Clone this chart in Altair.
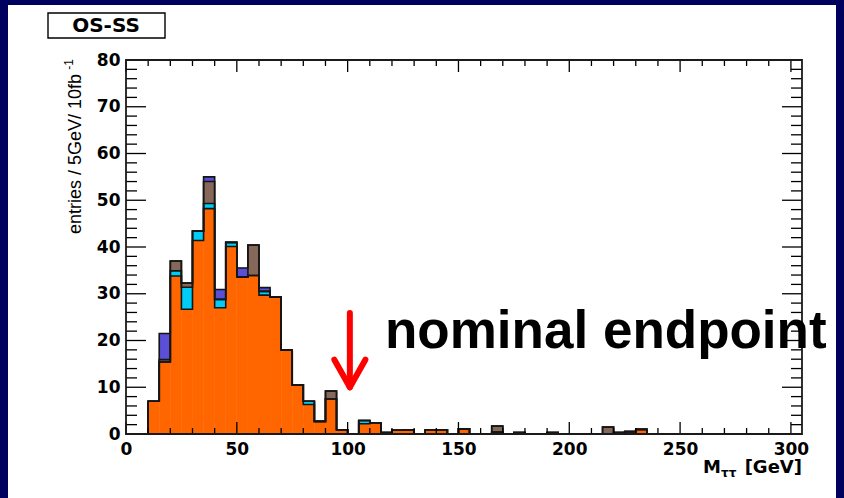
import altair as alt
import pandas as pd

# ---------------- data ----------------
bin_low = list(range(10, 235, 5))          # 5 GeV bins, 10 ... 230
orange = [7.0, 15.4, 33.8, 26.7, 41.4, 48.2, 27.0, 40.1, 33.6, 33.9,
          29.7, 29.3, 18.0, 10.5, 6.3, 2.7, 7.5, 0.9, 0.0, 2.2,
          2.4, 0.3, 0.8, 0.9, 0.0, 0.9, 0.9, 0.0, 1.1, 0.0,
          0.0, 0.4, 0.0, 0.3, 0.0, 0.0, 0.3, 0.0, 0.0, 0.0,
          0.0, 0.0, 0.3, 0.5, 1.0]
cyan = [0.0, 0.0, 1.1, 4.7, 2.0, 1.1, 1.8, 0.9, 0.0, 0.0,
        0.8, 0.0, 0.0, 0.0, 0.7, 0.0, 0.0, 0.0, 0.0, 0.7,
        0.0, 0.0, 0.0, 0.0, 0.0, 0.0, 0.0, 0.0, 0.0, 0.0,
        0.0, 0.0, 0.0, 0.0, 0.0, 0.0, 0.0, 0.0, 0.0, 0.0,
        0.0, 0.0, 0.0, 0.0, 0.0]
brown = [0.0, 0.5, 2.1, 0.9, 0.0, 4.7, 0.0, 0.0, 0.0, 6.5,
         0.0, 0.0, 0.0, 0.0, 0.0, 0.0, 1.7, 0.0, 0.0, 0.0,
         0.0, 0.0, 0.0, 0.0, 0.0, 0.0, 0.0, 0.0, 0.0, 0.0,
         0.0, 1.3, 0.0, 0.0, 0.0, 0.0, 0.0, 0.0, 0.0, 0.0,
         0.0, 1.5, 0.0, 0.0, 0.0]
purple = [0.0, 5.6, 0.0, 0.0, 0.0, 1.0, 2.1, 0.0, 1.9, 0.0,
          0.8, 0.0, 0.0, 0.0, 0.0, 0.0, 0.0, 0.0, 0.0, 0.0,
          0.0, 0.0, 0.0, 0.0, 0.0, 0.0, 0.0, 0.0, 0.0, 0.0,
          0.0, 0.0, 0.0, 0.0, 0.0, 0.0, 0.0, 0.0, 0.0, 0.0,
          0.0, 0.0, 0.0, 0.0, 0.0]
component_names = ["orange", "cyan", "brown", "purple"]
component_colors = ["#FF6600", "#00CCF5", "#86685A", "#5A4FD6"]
x_label_values = [0, 50, 100, 150, 200, 250, 300]
y_label_values = [0, 10, 20, 30, 40, 50, 60, 70, 80]
BIN_WIDTH = 5
endpoint_gev = 101

# ---------------- layout ----------------
W, H = 676, 374
X_MAX, Y_MAX = 305, 80
NAVY = "#00005E"

xs = alt.Scale(domain=[0, X_MAX], nice=False, zero=False)
ys = alt.Scale(domain=[0, Y_MAX], nice=False)
xaxis = alt.Axis(values=x_label_values, format="d", title=None, ticks=False, domain=False,
                 grid=False, labelFont="DejaVu Sans", labelFontWeight="bold",
                 labelFontSize=17, labelColor="black", labelPadding=7,
                 labelFlush=False, labelOverlap=False, zindex=1)
yaxis = alt.Axis(values=y_label_values, format="d", title=None, ticks=False, domain=False,
                 grid=False, labelFont="DejaVu Sans", labelFontWeight="bold",
                 labelFontSize=17, labelColor="black", labelPadding=6,
                 labelOverlap=False, zindex=1)


def X(f):
    return alt.X(f, type="quantitative", scale=xs, axis=xaxis)


def Y(f):
    return alt.Y(f, type="quantitative", scale=ys, axis=yaxis)


series = [orange, cyan, brown, purple]

# stacked fill rectangles
rows = []
for i, lo in enumerate(bin_low):
    base = 0.0
    for name, vals in zip(component_names, series):
        v = vals[i]
        if v > 0:
            rows.append(dict(lo=lo, hi=lo + BIN_WIDTH, y0=base, y1=base + v, comp=name))
        base += v
fill_df = pd.DataFrame(rows)

# step outlines of cumulative levels
lrows = []
for k in range(1, 5):
    cum = [sum(s[i] for s in series[:k]) for i in range(len(bin_low))]
    idx = 0
    lrows.append(dict(x=bin_low[0], y=0.0, level=k, idx=idx))
    for i, lo in enumerate(bin_low):
        idx += 1
        lrows.append(dict(x=lo, y=cum[i], level=k, idx=idx))
        idx += 1
        lrows.append(dict(x=lo + BIN_WIDTH, y=cum[i], level=k, idx=idx))
    idx += 1
    lrows.append(dict(x=bin_low[-1] + BIN_WIDTH, y=0.0, level=k, idx=idx))
line_df = pd.DataFrame(lrows)

one = alt.Data(values=[{}])

bg = alt.Chart(one).mark_rect(fill="white").encode(
    x=alt.value(8 - 126), x2=alt.value(836 - 126), y=alt.value(5 - 60), y2=alt.value(500 - 60))

cscale = alt.Scale(domain=component_names, range=component_colors)
fills = alt.Chart(fill_df).mark_rect(strokeWidth=0.6).encode(
    x=X("lo"), x2="hi:Q", y=Y("y0"), y2="y1:Q",
    fill=alt.Fill("comp:N", scale=cscale, legend=None),
    stroke=alt.Stroke("comp:N", scale=cscale, legend=None))

outlines = alt.Chart(line_df).mark_line(color="#151515", strokeWidth=1.6).encode(
    x=X("x"), y=Y("y"), detail="level:N", order="idx:Q")

# ticks (inside the frame, all four sides)
y_major = pd.DataFrame({"v": list(range(0, 81, 10))})
y_minor = pd.DataFrame({"v": [v for v in range(0, 81, 2) if v % 10]})
x_major = pd.DataFrame({"v": list(range(0, 301, 50))})
x_minor = pd.DataFrame({"v": [v for v in range(0, 301, 10) if v % 50]})
tk = dict(color="black", strokeWidth=1.3)
ticks = [
    alt.Chart(y_major).mark_rule(**tk).encode(y=Y("v"), x=alt.value(0), x2=alt.value(20)),
    alt.Chart(y_minor).mark_rule(**tk).encode(y=Y("v"), x=alt.value(0), x2=alt.value(11)),
    alt.Chart(y_major).mark_rule(**tk).encode(y=Y("v"), x=alt.value(W), x2=alt.value(W - 20)),
    alt.Chart(y_minor).mark_rule(**tk).encode(y=Y("v"), x=alt.value(W), x2=alt.value(W - 11)),
    alt.Chart(x_major).mark_rule(**tk).encode(x=X("v"), y=alt.value(H), y2=alt.value(H - 12)),
    alt.Chart(x_minor).mark_rule(**tk).encode(x=X("v"), y=alt.value(H), y2=alt.value(H - 6)),
    alt.Chart(x_major).mark_rule(**tk).encode(x=X("v"), y=alt.value(0), y2=alt.value(12)),
    alt.Chart(x_minor).mark_rule(**tk).encode(x=X("v"), y=alt.value(0), y2=alt.value(6)),
]

frame = alt.Chart(one).mark_rect(fillOpacity=0, stroke="#1a1a1a", strokeWidth=1.8).encode(
    x=alt.value(0), x2=alt.value(W), y=alt.value(0), y2=alt.value(H))

# legend-like title box
box = alt.Chart(one).mark_rect(fill="white", stroke="black", strokeWidth=1.4).encode(
    x=alt.value(48 - 126), x2=alt.value(165 - 126), y=alt.value(13 - 60), y2=alt.value(38 - 60))
box_text = alt.Chart(one).mark_text(text="OS-SS", font="DejaVu Sans", fontWeight="bold",
                                    fontSize=20, align="center", baseline="middle",
                                    color="black").encode(
    x=alt.value(106 - 126), y=alt.value(26 - 60))

# axis titles
ytitle = alt.Chart(one).mark_text(text="entries / 5GeV/ 10fb", font="Liberation Sans",
                                  fontSize=18, angle=270, align="right", baseline="middle",
                                  color="black").encode(
    x=alt.value(76 - 126), y=alt.value(74 - 60))
ytitle_sup = alt.Chart(one).mark_text(text="-1", font="Liberation Sans", fontSize=12,
                                      angle=270, align="right", baseline="middle",
                                      color="black").encode(
    x=alt.value(69 - 126), y=alt.value(59 - 60))
xt_m = alt.Chart(one).mark_text(text="M", font="DejaVu Sans", fontWeight="bold", fontSize=18,
                                align="left", baseline="alphabetic", color="black").encode(
    x=alt.value(703 - 126), y=alt.value(473 - 60))
xt_tau = alt.Chart(one).mark_text(text="ττ", font="DejaVu Sans", fontWeight="bold", fontSize=12,
                                  align="left", baseline="alphabetic", color="black").encode(
    x=alt.value(721 - 126), y=alt.value(477 - 60))
xt_gev = alt.Chart(one).mark_text(text="[GeV]", font="DejaVu Sans", fontWeight="bold", fontSize=18,
                                  align="right", baseline="alphabetic", color="black").encode(
    x=alt.value(802 - 126), y=alt.value(473 - 60))

# annotation arrow + text
arrow_df = pd.DataFrame({
    "x": [endpoint_gev, endpoint_gev - 7, endpoint_gev + 7],
    "y": [25.9, 15.9, 15.9],
    "x2": [endpoint_gev, endpoint_gev, endpoint_gev],
    "y2": [10.4, 10.0, 10.0],
})
arrow = alt.Chart(arrow_df).mark_rule(color="#FF0000", strokeWidth=6, strokeCap="round").encode(
    x=X("x"), y=Y("y"), x2="x2:Q", y2="y2:Q")
note = alt.Chart(one).mark_text(text="nominal endpoint", font="Liberation Sans", fontWeight="bold",
                                fontSize=53, align="left", baseline="alphabetic",
                                color="black").encode(
    x=alt.value(385 - 126), y=alt.value(348 - 60))

chart = alt.layer(
    bg, fills, outlines, *ticks, frame, box, box_text, ytitle, ytitle_sup,
    xt_m, xt_tau, xt_gev, arrow, note
).properties(
    width=W, height=H,
    autosize=alt.AutoSizeParams(type="none"),
    padding={"left": 126, "top": 60, "right": 42, "bottom": 64},
    background=NAVY,
).configure_view(stroke=None)

chart.save("out.html", embed_options={"renderer": "svg", "actions": False})
